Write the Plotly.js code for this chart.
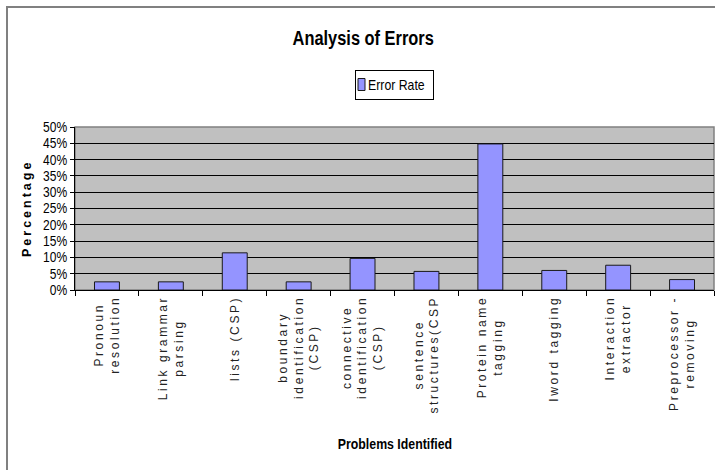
<!DOCTYPE html>
<html>
<head>
<meta charset="utf-8">
<script src="https://cdn.plot.ly/plotly-3.0.1.min.js"></script>
<style>
  html, body { margin: 0; padding: 0; background: #fff; }
  #wrap { position: relative; width: 715px; height: 470px; overflow: hidden; }
  #chart { width: 715px; height: 470px; }
  #frame { position: absolute; left: 6px; top: 6px; width: 760px; height: 500px;
           border-left: 2px solid #808080; border-top: 2px solid #808080; pointer-events: none; }
  .xtick text { letter-spacing: 2.6px; }
  .spaced { letter-spacing: 3px; }
</style>
</head>
<body>
<div id="wrap">
  <div id="chart"></div>
  <div id="frame"></div>
</div>
<script>
const categories = [
  "Pronoun<br>resolution",
  "Link grammar<br>parsing",
  "lists (CSP)",
  "boundary<br>identification<br>(CSP)",
  "connective<br>identification<br>(CSP)",
  "sentence<br>structures(CSP",
  "Protein name<br>tagging",
  "Iword tagging",
  "Interaction<br>extractor",
  "Preprocessor -<br>removing"
];
const errorRate = [2.5, 2.5, 11.4, 2.5, 9.7, 5.7, 44.8, 6.0, 7.6, 3.2];
const yTickVals = [0, 5, 10, 15, 20, 25, 30, 35, 40, 45, 50];
const yTickText = ["0%", "5%", "10%", "15%", "20%", "25%", "30%", "35%", "40%", "45%", "50%"];

const sans = "Liberation Sans, Arial, sans-serif";

const trace = {
  type: "bar",
  x: categories,
  y: errorRate,
  name: "Error Rate",
  marker: { color: "#9494ff", line: { color: "#1a1a1a", width: 1 } },
  hoverinfo: "x+y"
};

const layout = {
  width: 715,
  height: 470,
  margin: { l: 75, r: 1, t: 127, b: 180, pad: 0, autoexpand: false },
  paper_bgcolor: "#ffffff",
  plot_bgcolor: "#c0c0c0",
  bargap: 0.61,
  showlegend: true,
  title: {
    text: "<b>Analysis of Errors</b>",
    font: { family: sans, size: 20, color: "#000" },
    xref: "container", x: 0.508, xanchor: "center",
    yref: "container", y: 0.92, yanchor: "middle"
  },
  legend: {
    xref: "container", yref: "container",
    x: 0.551, xanchor: "center",
    y: 0.82, yanchor: "middle",
    bgcolor: "#ffffff",
    bordercolor: "#000000",
    borderwidth: 1,
    font: { family: sans, size: 15, color: "#000" },
    itemwidth: 30
  },
  xaxis: {
    type: "category",
    tickangle: -90,
    ticks: "outside",
    ticklen: 5,
    tickcolor: "#000",
    tickson: "boundaries",
    showline: true,
    linecolor: "#000",
    linewidth: 1,
    showgrid: false,
    tickfont: { family: sans, size: 12, color: "#222" },
    automargin: false,
    fixedrange: true
  },
  yaxis: {
    range: [0, 50],
    tickvals: yTickVals,
    ticktext: yTickText,
    ticks: "outside",
    ticklen: 4,
    tickcolor: "#000",
    showline: true,
    linecolor: "#000",
    linewidth: 1,
    showgrid: true,
    gridcolor: "#000",
    gridwidth: 1,
    zeroline: false,
    tickfont: { family: sans, size: 14, color: "#000" },
    automargin: false,
    fixedrange: true
  },
  shapes: [{
    type: "rect", xref: "paper", yref: "paper", x0: 0, x1: 1, y0: 0, y1: 1,
    line: { color: "#808080", width: 1.5 }, layer: "between"
  }],
  annotations: [
    {
      text: "<b>Percentage</b>", textangle: -90,
      xref: "paper", x: (26.5 - 75) / 639, xanchor: "center",
      yref: "paper", y: 0.5, yanchor: "middle",
      showarrow: false,
      font: { family: sans, size: 12.5, color: "#000" }
    },
    {
      text: "<b>Problems Identified</b>",
      xref: "paper", x: 0.5, xanchor: "center",
      yref: "paper", y: (290 - 444) / 163, yanchor: "middle",
      showarrow: false,
      font: { family: sans, size: 14, color: "#000" }
    }
  ]
};

function narrowText(el, factor) {
  const w = el.getComputedTextLength();
  el.setAttribute("textLength", (w * factor).toFixed(1));
  el.setAttribute("lengthAdjust", "spacingAndGlyphs");
}

function compactLegend() {
  try {
    const leg = document.querySelector(".legend");
    if (!leg) return;
    const bg = leg.querySelector("rect.bg");
    const txt = leg.querySelector(".legendtext");
    const sym = leg.querySelector(".legendpoints path");
    const tr = leg.querySelector(".traces");
    if (!bg || !txt || !sym || !tr) return;
    narrowText(txt, 0.82);
    const w = 78, h = 29;
    leg.setAttribute("transform", "translate(355,70)");
    bg.setAttribute("width", w);
    bg.setAttribute("height", h);
    tr.setAttribute("transform", "translate(1," + (h / 2) + ")");
    sym.setAttribute("d", "M3.5,6H-3.5V-6H3.5Z");
    sym.setAttribute("transform", "translate(5.5,0)");
    txt.setAttribute("x", 12);
    document.querySelectorAll("clipPath rect").forEach(function (r) {
      if (r.parentNode && r.parentNode.id && r.parentNode.id.indexOf("legend") >= 0) {
        r.setAttribute("width", w); r.setAttribute("height", h);
      }
    });
  } catch (e) { /* keep default legend */ }
}

function centerTickLines() {
  try {
    document.querySelectorAll(".xtick text").forEach(function (t) {
      const lines = t.querySelectorAll("tspan.line");
      if (lines.length < 2) return;
      let L = 0;
      lines.forEach(function (s) { L = Math.max(L, s.getComputedTextLength()); });
      const x0 = parseFloat(t.getAttribute("x"));
      if (isNaN(x0)) return;
      const nx = x0 - L / 2;
      t.setAttribute("text-anchor", "middle");
      t.style.textAnchor = "middle";
      t.setAttribute("x", nx);
      lines.forEach(function (s) { s.setAttribute("x", nx); });
    });
  } catch (e) { /* leave labels as drawn */ }
}

Plotly.newPlot("chart", [trace], layout, { displayModeBar: false }).then(function (gd) {
  document.querySelectorAll(".gtitle").forEach(function (t) { narrowText(t, 0.82); });
  document.querySelectorAll(".ytick text").forEach(function (t) { narrowText(t, 0.86); });
  document.querySelectorAll(".annotation-text").forEach(function (t) {
    if (t.textContent === "Percentage") t.classList.add("spaced");
    if (t.textContent === "Problems Identified") narrowText(t, 0.88);
  });
  centerTickLines();
  compactLegend();
});
</script>
</body>
</html>
